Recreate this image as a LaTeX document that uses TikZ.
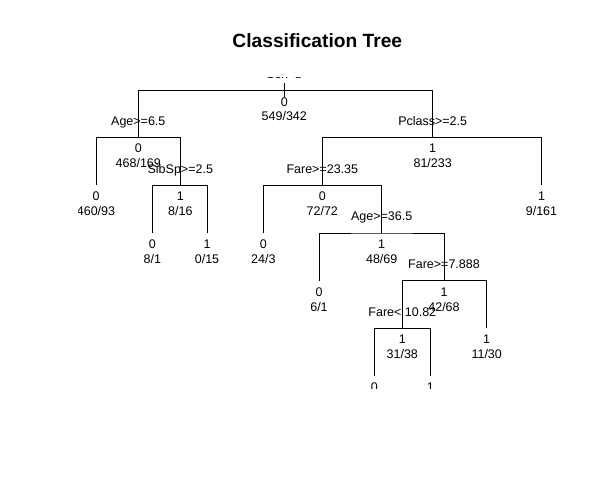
\documentclass[tikz,border=0pt]{standalone}
\usepackage{fontspec}
\setmainfont{Liberation Sans}
\begin{document}
\begin{tikzpicture}[x=1bp,y=-1bp,
  branch/.style={line width=0.85bp, black},
  lab/.style={anchor=base, inner sep=0pt, text=black, font=\fontsize{12.5bp}{14bp}\selectfont},
  titlestyle/.style={anchor=base, inner sep=0pt, font=\fontsize{19.2bp}{22bp}\selectfont\bfseries}]
\useasboundingbox (0,0) rectangle (600,485);
\fill[white] (0,0) rectangle (600,485);
\node[titlestyle] (title) at (317.3,47.3) {Classification Tree};
\newcommand\tnode[5]{%
  \coordinate (#1) at (#2,#3);
  \node[lab] (#1-c) at (#2,#3+15.5) {#4};
  \node[lab] (#1-n) at (#2,#3+30.3) {#5};}
\newcommand\tsplit[4]{\node[lab] (#1-s) at (#2,#3-12) {#4};}
\begin{scope}
\clip (78.5,77.5) rectangle (560,388.5);
% levels: 90.7 137.5 185.4 233 280.7 328.3 375.5
\tnode{root}{284.3}{90.7}{0}{549/342}
\tsplit{root}{284.3}{90.7}{Sex=b}
\tnode{age}{138.3}{137.5}{0}{468/169}
\tsplit{age}{138.3}{137.5}{Age>=6.5}
\tnode{lfa}{96}{185.4}{0}{460/93}
\tnode{sib}{180.3}{185.4}{1}{8/16}
\tsplit{sib}{180.3}{185.4}{SibSp>=2.5}
\tnode{lfb}{152.3}{233}{0}{8/1}
\tnode{lfc}{207}{233}{1}{0/15}
\tnode{pcl}{432.7}{137.5}{1}{81/233}
\tsplit{pcl}{432.7}{137.5}{Pclass>=2.5}
\tnode{lfd}{541.5}{185.4}{1}{9/161}
\tnode{fra}{322.3}{185.4}{0}{72/72}
\tsplit{fra}{322.3}{185.4}{Fare>=23.35}
\tnode{lfe}{263.3}{233}{0}{24/3}
\tnode{agb}{381.7}{233}{1}{48/69}
\tsplit{agb}{381.7}{233}{Age>=36.5}
\tnode{lff}{319}{280.7}{0}{6/1}
\tnode{frb}{444}{280.7}{1}{42/68}
\tsplit{frb}{444}{280.7}{Fare>=7.888}
\tnode{lfg}{486.7}{328.3}{1}{11/30}
\tnode{frc}{402.3}{328.3}{1}{31/38}
\tsplit{frc}{402.3}{328.3}{Fare< 10.82}
\coordinate (lfh) at (374.3,375.5);
\node[lab] (lfh-c) at (374.3,391) {0};
\coordinate (lfi) at (430.3,375.5);
\node[lab] (lfi-c) at (430.3,391) {1};
% branches
\draw[branch] (age) |- (root) -| (pcl);
\draw[branch] (lfa) |- (age) -| (sib);
\draw[branch] (lfb) |- (sib) -| (lfc);
\draw[branch] (fra) |- (pcl) -| (lfd);
\draw[branch] (lfe) |- (fra) -| (agb);
\draw[branch] (lff) |- (agb) -| (frb);
\draw[branch] (frc) |- (frb) -| (lfg);
\draw[branch] (lfh) |- (frc) -| (lfi);
\draw[branch] (root) ++(0,-7.7) -- ++(0,14.3);
\end{scope}
\end{tikzpicture}
\end{document}
